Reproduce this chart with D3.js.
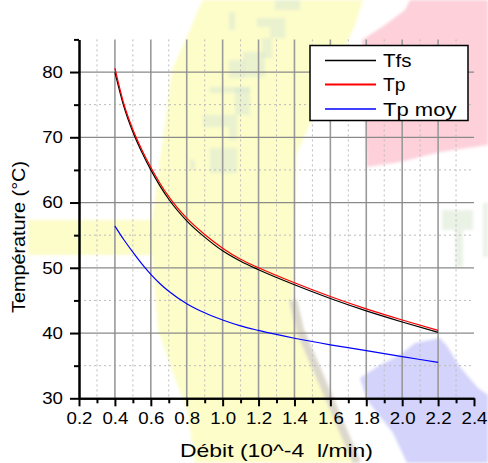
<!DOCTYPE html>
<html>
<head>
<meta charset="utf-8">
<script src="https://cdn.jsdelivr.net/npm/d3@7"></script>
<style>
  body { margin: 0; background: #fff; }
  svg { display: block; font-family: Arial, "Liberation Sans", sans-serif; }
</style>
</head>
<body>
<div id="chart"></div>
<script>
// DATA
const debit  = [0.4, 0.45, 0.5, 0.55, 0.6, 0.65, 0.7, 0.8, 0.9, 1.0, 1.1, 1.2, 1.4, 1.6, 1.8, 2.0, 2.2];
const tfs    = [80.0, 74.7, 70.8, 67.7, 65.0, 62.6, 60.5, 57.2, 54.7, 52.6, 51.0, 49.7, 47.4, 45.3, 43.4, 41.7, 40.1];
const tp     = [80.6, 75.1, 71.2, 68.1, 65.4, 63.0, 60.9, 57.6, 55.1, 53.0, 51.3, 50.0, 47.7, 45.6, 43.7, 42.0, 40.4];
const tpMoy  = [56.4, 54.3, 52.4, 50.6, 49.0, 47.6, 46.4, 44.5, 43.1, 42.0, 41.1, 40.4, 39.2, 38.2, 37.3, 36.4, 35.5];
const seriesNames = ["Tfs", "Tp", "Tp moy"];
const xMajor = [0.2, 0.4, 0.6, 0.8, 1.0, 1.2, 1.4, 1.6, 1.8, 2.0, 2.2, 2.4];
const xMinor = [0.3, 0.5, 0.7, 0.9, 1.1, 1.3, 1.5, 1.7, 1.9, 2.1, 2.3];
const yMajor = [30, 40, 50, 60, 70, 80];
const yMinor = [35, 45, 55, 65, 75, 85];

const width = 488, height = 463;
const margin = { top: 39.4, right: 14, bottom: 64.7, left: 79 };
const colors = ["#000000", "#ff0000", "#0000ff"];

const svg = d3.select("#chart").append("svg")
  .attr("width", width)
  .attr("height", height);

// background smudges from the scanned page
const defs = svg.append("defs");
defs.append("filter").attr("id", "soft")
  .append("feGaussianBlur").attr("stdDeviation", 1.4);

const bg = svg.append("g").attr("filter", "url(#soft)");
const blobs = [
  { fill: "#fdfdc9", pts: [[203,0],[363,0],[355,25],[330,80],[296,155],[293,300],[300,330],[330,400],[357,463],[195,463],[187,410],[172,370],[158,330],[152,255],[28,255],[28,220],[152,220],[160,160],[172,70],[190,30],[198,10]] },
  { fill: "#fdd0da", pts: [[410,0],[488,0],[488,145],[440,152],[400,162],[367,167],[365,110],[362,40],[385,25],[405,10]] },
  { fill: "#d3d3fb", pts: [[415,343],[440,338],[447,346],[460,367],[478,388],[488,395],[488,463],[407,463],[393,433],[367,400],[360,378],[380,365],[400,355]] }
];
bg.selectAll("path.blob")
  .data(blobs)
  .join("path")
  .attr("class", "blob")
  .attr("fill", d => d.fill)
  .attr("d", d => "M" + d.pts.join("L") + "Z");

bg.append("path")
  .attr("d", "M293,300L300,330L330,400L357,463")
  .attr("fill", "none")
  .attr("stroke", "#dcd8cc")
  .attr("stroke-width", 8);

const greens = [[229,12,6,18],[257,18,28,9],[270,27,15,11],[275,0,25,10],[262,38,10,20],[243,52,22,25],[229,60,16,18],[210,87,40,6],[235,87,15,28],[203,115,34,12],[229,127,8,13],[210,148,27,25],[190,160,5,10],
  [442,210,31,20],[455,230,8,37],[483,203,5,54]];
bg.selectAll("rect.green")
  .data(greens)
  .join("rect")
  .attr("class", "green")
  .attr("x", d => d[0]).attr("y", d => d[1])
  .attr("width", d => d[2]).attr("height", d => d[3])
  .attr("fill", "#d8e8d2")
  .attr("opacity", 0.55);

// SCALES
const x = d3.scaleLinear().domain([0.2, 2.4]).range([margin.left, width - margin.right]);
const y = d3.scaleLinear().domain([30, 85]).range([height - margin.bottom, margin.top]);
const yTop = y(85), yBot = y(30);

// GRID
const grid = svg.append("g");
grid.selectAll("line.vminor").data(xMinor).join("line")
  .attr("x1", d => x(d)).attr("x2", d => x(d))
  .attr("y1", yTop).attr("y2", yBot)
  .attr("stroke", "#bbbbbb").attr("stroke-width", 1).attr("stroke-dasharray", "2,3");
grid.selectAll("line.hminor").data(yMinor.filter(d => d < 85)).join("line")
  .attr("x1", x(0.2)).attr("x2", x(2.4))
  .attr("y1", d => y(d)).attr("y2", d => y(d))
  .attr("stroke", "#bbbbbb").attr("stroke-width", 1).attr("stroke-dasharray", "2,3");
grid.selectAll("line.vmajor").data(xMajor.filter(d => d > 0.2 && d < 2.4)).join("line")
  .attr("x1", d => x(d)).attr("x2", d => x(d))
  .attr("y1", yTop).attr("y2", yBot)
  .attr("stroke", "#9a9a9a").attr("stroke-width", 1.6);
grid.selectAll("line.hmajor").data(yMajor.filter(d => d > 30)).join("line")
  .attr("x1", x(0.2)).attr("x2", x(2.4))
  .attr("y1", d => y(d)).attr("y2", d => y(d))
  .attr("stroke", "#8a8a8a").attr("stroke-width", 1.2);

// AXES
const xAxisMinor = d3.axisBottom(x).tickValues(xMinor).tickSize(5).tickSizeOuter(0).tickFormat("");
const xAxis = d3.axisBottom(x).tickValues(xMajor).tickSize(8).tickSizeOuter(0).tickPadding(6)
  .tickFormat(d3.format(".1f"));
const yAxisMinor = d3.axisLeft(y).tickValues(yMinor).tickSize(5).tickSizeOuter(0).tickFormat("");
const yAxis = d3.axisLeft(y).tickValues(yMajor).tickSize(9).tickSizeOuter(0).tickPadding(7);

function styleAxis(g) {
  g.select(".domain").attr("stroke", "#000").attr("stroke-width", 2);
  g.selectAll(".tick line").attr("stroke", "#000").attr("stroke-width", 2);
  g.selectAll(".tick text").attr("fill", "#000").attr("font-size", 17)
    .attr("font-family", "Arial, 'Liberation Sans', sans-serif");
}

svg.append("g").attr("transform", `translate(0,${yBot})`).call(xAxisMinor).call(styleAxis);
svg.append("g").attr("transform", `translate(0,${yBot})`).call(xAxis).call(styleAxis)
  .selectAll(".tick text").attr("dy", "0.71em").attr("transform", "scale(1.1,1)");
svg.append("g").attr("transform", `translate(${margin.left},0)`).call(yAxisMinor).call(styleAxis);
svg.append("g").attr("transform", `translate(${margin.left},0)`).call(yAxis).call(styleAxis)
  .selectAll(".tick text").attr("x", -16 / 1.1).attr("transform", "scale(1.1,1)");

// AXIS TITLES
svg.append("text")
  .attr("x", 180).attr("y", 456.5)
  .attr("font-size", 19)
  .attr("textLength", 193).attr("lengthAdjust", "spacingAndGlyphs")
  .text("Débit (10^-4\u00a0\u00a0l/min)");

svg.append("text")
  .attr("transform", "translate(25,313) rotate(-90)")
  .attr("font-size", 19)
  .attr("textLength", 152).attr("lengthAdjust", "spacingAndGlyphs")
  .text("Température (°C)");

// LINES
const series = [tfs, tp, tpMoy];
const line = d3.line()
  .x((d, i) => x(debit[i]))
  .y(d => y(d))
  .curve(d3.curveMonotoneX);

const drawOrder = [2, 0, 1];
svg.selectAll("path.series")
  .data(drawOrder)
  .join("path")
  .attr("class", "series")
  .attr("fill", "none")
  .attr("stroke", i => colors[i])
  .attr("stroke-width", 1.2)
  .attr("d", i => line(series[i]));

// LEGEND
const legend = svg.append("g");
legend.append("rect")
  .attr("x", 310).attr("y", 45.5)
  .attr("width", 158).attr("height", 75)
  .attr("fill", "#fff").attr("stroke", "#000").attr("stroke-width", 1.5);

const legendRows = [60.5, 84.5, 109];
const legendText = [28.5, 22.5, 73.5];
legend.selectAll("line.key").data(seriesNames).join("line")
  .attr("class", "key")
  .attr("x1", 325).attr("x2", 376)
  .attr("y1", (d, i) => legendRows[i]).attr("y2", (d, i) => legendRows[i])
  .attr("stroke", (d, i) => colors[i])
  .attr("stroke-width", (d, i) => i === 1 ? 1.8 : 1.4);
legend.selectAll("text.key").data(seriesNames).join("text")
  .attr("class", "key")
  .attr("x", 383)
  .attr("y", (d, i) => legendRows[i] + 6.5)
  .attr("font-size", 18.5)
  .attr("textLength", (d, i) => legendText[i]).attr("lengthAdjust", "spacingAndGlyphs")
  .text(d => d);
</script>
</body>
</html>
